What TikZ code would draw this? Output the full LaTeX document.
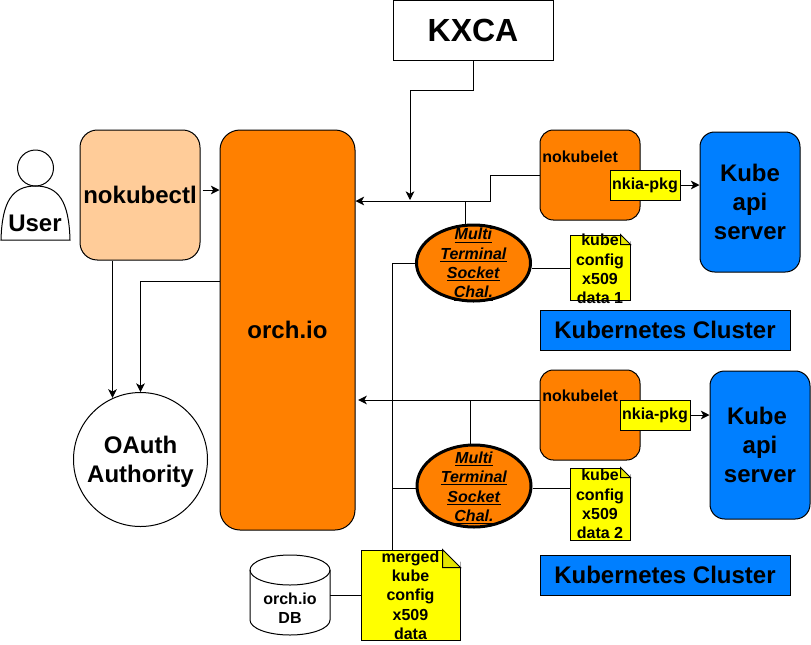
\documentclass[tikz,border=0pt]{standalone}
\usepackage{fontspec}
\setmainfont{Liberation Sans}
\usetikzlibrary{arrows.meta,shapes.geometric}
\definecolor{orchorange}{HTML}{FF8000}
\definecolor{kubeblue}{HTML}{007FFF}
\definecolor{peach}{HTML}{FFCC99}
\definecolor{noteyellow}{HTML}{FFFF00}
\tikzset{
    bigtext/.style={font=\fontsize{18}{22}\selectfont\bfseries, align=center},
    smalltext/.style={font=\fontsize{12}{14.5}\selectfont\bfseries, align=center},
    box/.style={draw, line width=0.75pt, inner sep=0pt},
    orangebox/.style={box, fill=orchorange, rounded corners=10pt, minimum width=75pt, minimum height=67.5pt},
    kubebox/.style={box, bigtext, fill=kubeblue, rounded corners=11pt, minimum width=75pt},
    clusterbox/.style={box, bigtext, fill=kubeblue, minimum width=187.5pt, minimum height=30pt},
    pkgbox/.style={box, smalltext, fill=noteyellow, minimum width=52.5pt, minimum height=22.5pt},
    notebox/.style={box, fill=noteyellow},
    chalnode/.style={ellipse, draw, line width=2.25pt, fill=orchorange, inner sep=0pt, minimum width=85.5pt},
    link/.style={line width=0.75pt},
    arrowlink/.style={link, -{Stealth[length=6.5pt,width=6.5pt,inset=1.8pt]}},
}
\newcommand{\notefold}[2]{
    \fill[white] ([xshift=-#2pt]#1.north east) -- ([yshift=-#2pt]#1.north east) -- ([xshift=0.6pt,yshift=0.6pt]#1.north east) -- cycle;
    \draw[line width=0.75pt, fill=noteyellow!90!black] ([xshift=-#2pt]#1.north east) -- ([xshift=-#2pt,yshift=-#2pt]#1.north east) -- ([yshift=-#2pt]#1.north east) -- cycle;
}
\begin{document}
\begin{tikzpicture}[x=0.75pt, y=-0.75pt]
    \useasboundingbox (0, 0) rectangle (811, 644);

    % User
    \draw[line width=0.75pt] (35.5, 168) circle (18);
    \draw[line width=0.75pt] (1, 240) .. controls (2, 202) and (12, 186) .. (35.5, 186) .. controls (59, 186) and (69, 202) .. (70, 240) -- cycle;
    \node[bigtext] (user) at (35, 223) {User};

    % Left side
    \node[box, bigtext, fill=peach, rounded corners=13pt, minimum width=90pt, minimum height=97.5pt] (nokubectl) at (140, 195) {nokubectl};
    \node[box, bigtext, fill=orchorange, rounded corners=15pt, minimum width=101.25pt, minimum height=300pt] (orch) at (287.5, 330) {orch.io};
    \node[circle, box, bigtext, minimum size=100.5pt] (oauth) at (140.5, 459.5) {OAuth\\\smash{Authority}};

    % CA on top
    \node[box, font=\fontsize{24}{28}\selectfont\bfseries, minimum width=120pt, minimum height=45pt] (kxca) at (473, 30) {KXCA};

    % First cluster
    \node[orangebox] (kubelet1) at (590, 175) {};
    \node[smalltext, anchor=west, inner sep=0pt] (kubeletlabel1) at (542, 157) {nokubelet};
    \node[pkgbox] (pkg1) at (645, 185) {nkia-pkg};
    \node[kubebox, minimum height=105pt] (api1) at (750, 202) {Kube\\api\\server};
    \node[chalnode, minimum height=57pt] (chal1) at (473.5, 263) {};
    \node[smalltext] (challabel1) at (473.5, 264.5) {\underline{\textit{Multi}}\\\underline{\textit{Terminal}}\\\underline{\textit{Socket}}\\\underline{\textit{Chal.}}};
    \node[notebox, minimum width=45pt, minimum height=48.75pt] (note1) at (600, 267.5) {};
    \notefold{note1}{7.5}
    \node[smalltext] (notelabel1) at (600, 269) {kube\\config\\x509\\data 1};
    \node[clusterbox] (cluster1) at (665, 330) {Kubernetes Cluster};

    % Second cluster
    \node[orangebox] (kubelet2) at (590, 415) {};
    \node[smalltext, anchor=west, inner sep=0pt] (kubeletlabel2) at (542, 396) {nokubelet};
    \node[pkgbox] (pkg2) at (655, 415) {nkia-pkg};
    \node[kubebox, minimum height=111pt] (api2) at (760, 445) {Kube\hspace*{4.5pt}\\api\\server};
    \node[chalnode, minimum height=61.5pt] (chal2) at (474, 486) {};
    \node[smalltext] (challabel2) at (474, 488) {\underline{\textit{Multi}}\\\underline{\textit{Terminal}}\\\underline{\textit{Socket}}\\\underline{\textit{Chal.}}};
    \node[notebox, minimum width=45pt, minimum height=54pt] (note2) at (600, 504) {};
    \notefold{note2}{7.5}
    \node[smalltext] (notelabel2) at (600, 504) {kube\\config\\x509\\data 2};
    \node[clusterbox] (cluster2) at (665, 575) {Kubernetes Cluster};

    % Database and merged data
    \draw[line width=0.75pt, fill=white] (250, 570) -- (250, 620) arc[start angle=180, end angle=0, x radius=40, y radius=15] -- (330, 570) arc[start angle=0, end angle=-180, x radius=40, y radius=15];
    \draw[line width=0.75pt] (250, 570) arc[start angle=180, end angle=0, x radius=40, y radius=15];
    \node[minimum width=60pt, minimum height=60pt, inner sep=0pt] (db) at (290, 595) {};
    \node[smalltext] (dblabel) at (290, 608) {orch.io\\DB};
    \node[notebox, minimum width=74.25pt, minimum height=67.5pt] (merged) at (410.5, 595) {};
    \notefold{merged}{13.5}
    \node[smalltext] (mergedlabel) at (410.5, 595) {merged\\kube\\config\\x509\\data};

    % Junction points
    \coordinate (kxcabend) at (410, 90);
    \coordinate (kxcaend) at (410, 200);
    \coordinate (bus1) at (490, 201);
    \coordinate (tap1) at (465.5, 201);
    \coordinate (tap2) at (470.5, 400);
    \coordinate (trunk) at (392, 550);
    \coordinate (ctlout) at ([xshift=-20.6pt]nokubectl.south);

    % Connectors
    \draw[arrowlink] ([xshift=1.5pt, yshift=3.75pt]nokubectl.east) -- ([yshift=105pt]orch.west);
    \draw[arrowlink] (ctlout) -- (ctlout |- oauth.114);
    \draw[arrowlink] ([yshift=36.75pt]orch.west) -| (oauth.north);
    \draw[link] (kxca.south) |- (kxcabend);
    \draw[arrowlink] (kxcabend) -- (kxcaend);
    \draw[arrowlink] (kubelet1.west) -| (bus1) -- (bus1 -| orch.east);
    \draw[link] (tap1) -- (tap1 |- chal1.north);
    \draw[arrowlink] ([yshift=11.25pt]kubelet2.west) -- ([xshift=2pt]orch.east |- tap2);
    \draw[link] (tap2) -- (tap2 |- chal2.north);
    \draw[arrowlink] (pkg1.east) -- (api1.west |- pkg1.east);
    \draw[arrowlink] (pkg2.east) -- (api2.west |- pkg2.east);
    \draw[link] (chal1.west) -| (trunk);
    \draw[link] ([yshift=-1.5pt]chal2.west) -- ([yshift=-1.5pt]chal2.west -| trunk);
    \draw[link] ([yshift=-3.75pt]chal1.east) -- ([yshift=-3.75pt]chal1.east -| note1.west);
    \draw[link] ([yshift=-1.5pt]chal2.east) -- ([yshift=-1.5pt]chal2.east -| note2.west);
    \draw[link] (db.east) -- (merged.west);
\end{tikzpicture}
\end{document}
